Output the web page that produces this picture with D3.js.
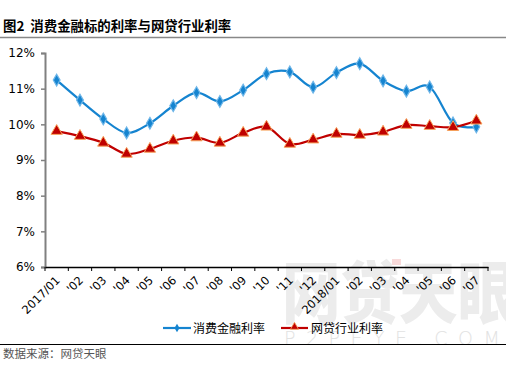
<!DOCTYPE html>
<html><head><meta charset="utf-8">
<script src="https://cdn.jsdelivr.net/npm/d3@7"></script>
<style>body{margin:0;background:#fff}svg{display:block}</style>
</head><body>
<script>
const categories = ["2017/01","'02","'03","'04","'05","'06","'07","'08","'09","'10","'11","'12","2018/01","'02","'03","'04","'05","'06","'07"];
const consumerRate = [11.24,10.68,10.15,9.76,10.03,10.52,10.89,10.64,10.96,11.42,11.47,11.04,11.45,11.70,11.22,10.93,11.05,10.04,9.93];
const p2pRate = [9.81,9.67,9.48,9.17,9.31,9.54,9.63,9.48,9.76,9.93,9.45,9.57,9.73,9.70,9.79,9.98,9.95,9.92,10.10];
const yTicks = [6,7,8,9,10,11,12];
const seriesNames = ["消费金融利率","网贷行业利率"];

const W=506,H=365;
const svg=d3.select("body").append("svg").attr("width",W).attr("height",H);
const font="'Noto Sans CJK SC','DejaVu Sans',sans-serif";

// watermark
svg.append("text").attr("transform","translate(282,318) scale(0.86,1)").attr("font-family",font).attr("font-weight",900)
  .attr("font-size",68).attr("fill","#ececec").text("网贷天眼");
svg.append("rect").attr("x",392).attr("y",259).attr("width",9).attr("height",6).attr("fill","#f8dada");
svg.append("text").attr("x",284).attr("y",345).attr("font-family","'DejaVu Sans',sans-serif").attr("font-weight",200)
  .attr("font-size",19).attr("fill","#e2e2e2").attr("letter-spacing",10.5).text("P2PEYE.COM");

// title
svg.append("text").attr("x",3).attr("y",31).attr("font-family",font).attr("font-weight","bold")
  .attr("font-size",13.4).attr("fill","#000").style("white-space","pre").text("图2  消费金融标的利率与网贷行业利率");
svg.append("line").attr("x1",0).attr("x2",W).attr("y1",37.5).attr("y2",37.5).attr("stroke","#888").attr("stroke-width",1.5);
svg.append("line").attr("x1",0).attr("x2",W).attr("y1",344.5).attr("y2",344.5).attr("stroke","#000").attr("stroke-width",1.2);
svg.append("text").attr("x",3).attr("y",358).attr("font-family",font)
  .attr("font-size",11.5).attr("fill","#555").text("数据来源：网贷天眼");

const x=d3.scaleBand().domain(d3.range(categories.length)).range([45,488]);
const y=d3.scaleLinear().domain([6,12]).range([267,53]);
const cx=i=>x(i)+x.bandwidth()/2;

// y axis
const ya=svg.append("g").attr("transform","translate(45,0)")
  .call(d3.axisLeft(y).tickValues(yTicks).tickFormat(d=>d+"%").tickSize(4).tickPadding(6));
ya.select(".domain").attr("stroke","#808080").attr("stroke-width",2);
ya.selectAll(".tick line").attr("stroke","#808080").attr("stroke-width",1.5);
ya.selectAll("text").attr("font-family","'DejaVu Sans',sans-serif").attr("font-size",12).attr("fill","#000");

// x axis
const xa=svg.append("g").attr("transform","translate(0,267)")
  .call(d3.axisBottom(x).tickValues([]).tickSizeOuter(0));
xa.select(".domain").attr("stroke","#000").attr("stroke-width",1.5);
const edges=d3.range(categories.length+1).map(i=>i<categories.length?x(i):x(categories.length-1)+x.bandwidth());
xa.selectAll(".tk").data(edges).join("line").attr("x1",d=>d).attr("x2",d=>d).attr("y1",0).attr("y2",4)
  .attr("stroke","#000").attr("stroke-width",1);
xa.selectAll(".lbl").data(categories).join("text")
  .attr("transform",(d,i)=>`translate(${cx(i)+4},${14}) rotate(-45)`)
  .attr("text-anchor","end").attr("font-family","'DejaVu Sans',sans-serif").attr("font-size",11.5).attr("fill","#000").text(d=>d);

const line=d3.line().x((d,i)=>cx(i)).y(d=>y(d)).curve(d3.curveCatmullRom.alpha(0));
const blue="#1584d0", red="#c00000";
svg.append("path").datum(consumerRate).attr("d",line).attr("fill","none").attr("stroke",blue).attr("stroke-width",2.2);
svg.append("path").datum(p2pRate).attr("d",line).attr("fill","none").attr("stroke",red).attr("stroke-width",2.2);

const diamond=d3.symbol().type(d3.symbolDiamond).size(40);
const tri=d3.symbol().type(d3.symbolTriangle).size(55);
svg.selectAll(".bm").data(consumerRate).join("path").attr("d",diamond)
  .attr("transform",(d,i)=>`translate(${cx(i)},${y(d)})`).attr("fill",blue).attr("stroke","#6fb6e8").attr("stroke-width",1.2);
svg.selectAll(".rm").data(p2pRate).join("path").attr("d",tri)
  .attr("transform",(d,i)=>`translate(${cx(i)},${y(d)})`).attr("fill",red).attr("stroke","#f7a25a").attr("stroke-width",1);

// legend
const lg=svg.append("g").attr("font-family",font).attr("font-size",12).attr("fill","#000");
lg.append("line").attr("x1",163).attr("x2",191).attr("y1",328).attr("y2",328).attr("stroke",blue).attr("stroke-width",2.2);
lg.append("path").attr("d",d3.symbol().type(d3.symbolDiamond).size(22)).attr("transform","translate(177,328)").attr("fill",blue);
lg.append("text").attr("x",193).attr("y",332.5).text(seriesNames[0]);
lg.append("line").attr("x1",281).attr("x2",308).attr("y1",328).attr("y2",328).attr("stroke",red).attr("stroke-width",2.2);
lg.append("path").attr("d",d3.symbol().type(d3.symbolTriangle).size(28)).attr("transform","translate(294.5,327)").attr("fill",red).attr("stroke","#f7a25a").attr("stroke-width",0.8);
lg.append("text").attr("x",311).attr("y",332.5).text(seriesNames[1]);
</script>
</body></html>
